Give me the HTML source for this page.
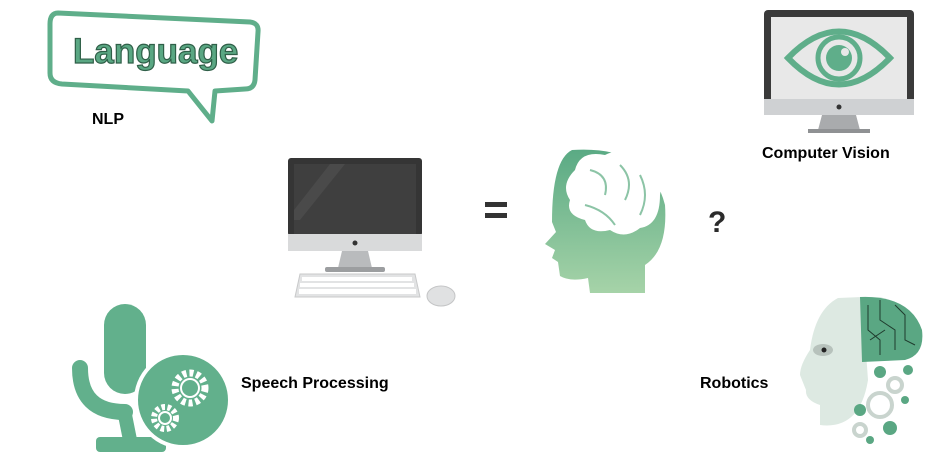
<!DOCTYPE html>
<html><head><meta charset="utf-8"><style>
html,body{margin:0;padding:0;background:#fff;}
#c{width:928px;height:452px;position:relative;overflow:hidden;font-family:"Liberation Sans",sans-serif;}
.lb{position:absolute;font-weight:bold;font-size:16px;color:#000;white-space:nowrap;}
</style></head><body>
<div id="c">
<svg width="928" height="452" style="position:absolute;left:0;top:0">
 <defs>
  <linearGradient id="hg" x1="0" y1="0" x2="0" y2="1"><stop offset="0" stop-color="#5aaa84"/><stop offset="1" stop-color="#a6d3a8"/></linearGradient>
 </defs>
 <g>
  <path d="M58,13 L250,22 Q259,23 258,32 L255,80 Q254,89 245,89 L215,91 L212,121 L188,91 L62,84 Q50,83 50,73 L50,24 Q50,13 58,13 Z" fill="#fff" stroke="#5fae8a" stroke-width="5" stroke-linejoin="round"/>
  <text x="73" y="63" font-family="Liberation Sans,sans-serif" font-weight="bold" font-size="35" fill="#5aa783" stroke="#2f5f48" stroke-width="1.2">Language</text>
 </g>
 <g>
  <rect x="764" y="10" width="150" height="104" rx="4" fill="#3a3a3a"/>
  <rect x="771" y="17" width="136" height="82" fill="#e8e8e8"/>
  <rect x="764" y="99" width="150" height="16" fill="#cfd1d3"/>
  <circle cx="839" cy="107" r="2.5" fill="#333"/>
  <polygon points="822,115 856,115 860,130 818,130" fill="#a9abad"/>
  <rect x="808" y="129" width="62" height="4" fill="#8f9193"/>
  <path d="M788,58 Q839,5 890,58 Q839,111 788,58 Z" fill="none" stroke="#5fae8a" stroke-width="6"/>
  <circle cx="839" cy="58" r="21" fill="none" stroke="#5fae8a" stroke-width="5"/>
  <circle cx="839" cy="58" r="13" fill="#5fae8a"/>
  <circle cx="845" cy="52" r="4" fill="#e8e8e8"/>
 </g>
 <g>
  <rect x="288" y="158" width="134" height="78" rx="3" fill="#353535"/>
  <rect x="294" y="164" width="122" height="70" fill="#3f3f3f"/>
  <polygon points="330,164 345,164 300,220 294,220 294,210" fill="#4a4a4a"/>
  <rect x="288" y="234" width="134" height="17" fill="#d9dadb"/>
  <circle cx="355" cy="243" r="2.5" fill="#333"/>
  <polygon points="342,251 368,251 372,268 338,268" fill="#b9bbbd"/>
  <rect x="325" y="267" width="60" height="5" rx="2" fill="#9c9ea0"/>
  <path d="M300,274 L415,274 L420,297 L295,297 Z" fill="#e2e3e4" stroke="#c8c9ca"/>
  <g fill="#fff">
   <rect x="302" y="277" width="110" height="4"/><rect x="300" y="283" width="114" height="4"/><rect x="299" y="289" width="117" height="5"/>
  </g>
  <ellipse cx="441" cy="296" rx="14" ry="10" fill="#e0e1e2" stroke="#c4c5c6"/>
 </g>
 <g fill="#333"><rect x="485" y="202" width="22" height="5"/><rect x="485" y="213" width="22" height="5"/></g>
 <g>
  <path d="M572,150 Q650,145 665,205 Q668,250 645,265 L645,293 L590,293 L588,278 Q570,282 560,276 L558,262 L552,258 L555,250 L545,244 L556,232 L552,222 Q552,160 572,150 Z" fill="url(#hg)"/>
  <path d="M575,170 Q580,150 605,155 Q625,145 645,160 Q665,170 660,195 Q660,225 640,228 Q625,240 610,230 Q590,235 585,220 Q565,215 570,200 Q560,185 575,170 Z" fill="#fff"/>
  <g fill="none" stroke="#8cc4a6" stroke-width="2"><path d="M590,170 Q610,175 605,195"/><path d="M620,165 Q635,180 625,200"/><path d="M640,175 Q650,195 640,215"/><path d="M585,205 Q605,210 615,225"/></g>
 </g>
 <text x="708" y="232" font-family="Liberation Sans,sans-serif" font-weight="bold" font-size="30" fill="#2b2b2b">?</text>
 <g>
  <rect x="104" y="304" width="42" height="90" rx="21" fill="#62b08c"/>
  <path d="M80,368 Q80,412 125,412" fill="none" stroke="#62b08c" stroke-width="16" stroke-linecap="round"/>
  <path d="M125,415 L130,440" stroke="#62b08c" stroke-width="14"/>
  <rect x="96" y="437" width="70" height="15" rx="4" fill="#62b08c"/>
  <circle cx="183" cy="400" r="47" fill="#62b08c" stroke="#fff" stroke-width="4"/>
  <g fill="none" stroke="#fff">
   <circle cx="190" cy="388" r="15" stroke-width="7" stroke-dasharray="4 3"/>
   <circle cx="190" cy="388" r="9" stroke-width="2"/>
   <circle cx="165" cy="418" r="11" stroke-width="6" stroke-dasharray="3.5 2.5"/>
   <circle cx="165" cy="418" r="6" stroke-width="2"/>
  </g>
 </g>
 <g>
  <path d="M838,298 L862,297 L868,380 Q860,430 820,425 L820,405 Q805,400 806,390 L800,375 Q800,365 810,350 Q815,310 838,298 Z" fill="#dde9e2"/>
  <ellipse cx="823" cy="350" rx="10" ry="6" fill="#b7c2bc"/>
  <circle cx="824" cy="350" r="2.5" fill="#222"/>
  <path d="M860,297 Q910,295 922,330 Q925,355 905,360 L862,362 Z" fill="#5aa783"/>
  <g stroke="#1f3b2d" stroke-width="1" fill="none"><path d="M868,305 L868,330 L880,340 L880,355"/><path d="M880,300 L880,320 L895,330 L895,350"/><path d="M895,305 L905,315 L905,340 L915,345"/><path d="M870,340 L885,330"/></g>
  <g fill="#5aa783"><circle cx="880" cy="372" r="6"/><circle cx="908" cy="370" r="5"/><circle cx="860" cy="410" r="6"/><circle cx="890" cy="428" r="7"/><circle cx="870" cy="440" r="4"/><circle cx="905" cy="400" r="4"/></g>
  <g fill="none" stroke="#c9d4ce" stroke-width="4"><circle cx="880" cy="405" r="12"/><circle cx="895" cy="385" r="7"/><circle cx="860" cy="430" r="6"/></g>
 </g>
</svg>
<div class="lb" style="left:92px;top:111px">NLP</div>
<div class="lb" style="left:762px;top:145px">Computer Vision</div>
<div class="lb" style="left:241px;top:375px">Speech Processing</div>
<div class="lb" style="left:700px;top:375px">Robotics</div>
</div>
</body></html>
